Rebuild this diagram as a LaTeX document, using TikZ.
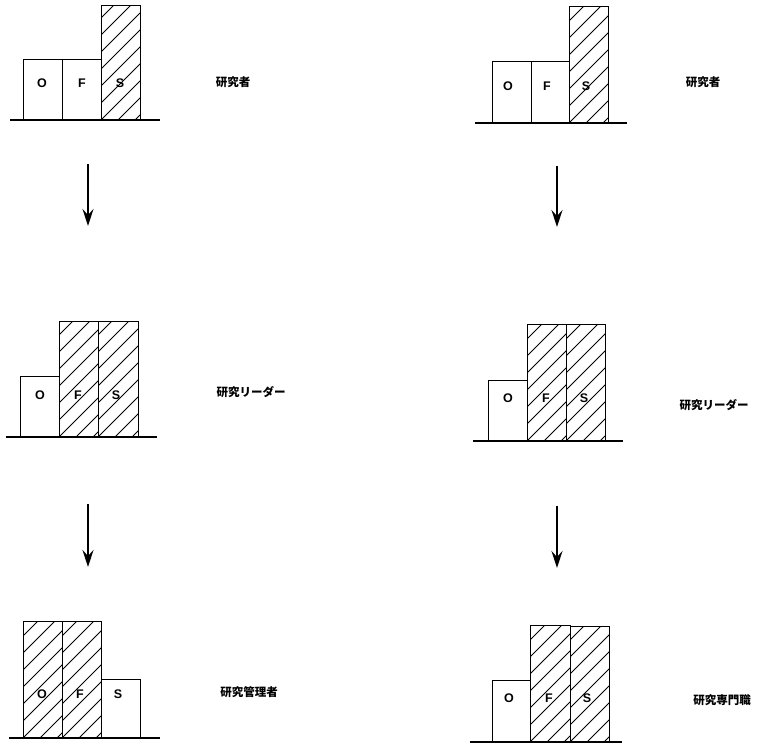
\documentclass[tikz,border=0pt]{standalone}
\usepackage{fontspec}
\setmainfont{Liberation Sans}
\newfontfamily\cjk{Noto Sans CJK JP}
\usetikzlibrary{arrows.meta}
\tikzset{
  box/.style={draw, line width=1.1pt, inner sep=0pt, anchor=south west},
  hatched/.style={path picture={
      \foreach \a in {-153,-136,...,60}
        \draw[line width=1pt] ([xshift=\a pt]path picture bounding box.south west) -- ++(140,-140);}},
  letter/.style={font=\bfseries\fontsize{12.5}{13}\selectfont, inner sep=0pt},
  jlabel/.style={font=\cjk\bfseries\fontsize{11.5}{12}\selectfont, inner sep=0pt},
  ground/.style={line width=1.1pt},
  arr/.style={line width=1.8pt, -{Stealth[length=17pt,width=11pt,inset=6pt]}}
}
\begin{document}
\begin{tikzpicture}[x=1pt,y=-1pt]
\useasboundingbox (0,0) rectangle (764,743);
% ---------- top left: researcher ----------
\node[box, minimum width=39pt, minimum height=60pt] (tlO) at (23,120) {};
\node[box, minimum width=39pt, minimum height=60pt] (tlF) at (62,120) {};
\node[box, hatched, minimum width=39pt, minimum height=114pt] (tlS) at (101,120) {};
\coordinate (tlg1) at (10,120); \coordinate (tlg2) at (160,120);
\draw[ground] (tlg1) -- (tlg2);
\node[letter] (tlOt) at (42,83) {O};
\node[letter] (tlFt) at (82,83) {F};
\node[letter] (tlSt) at (120,83) {S};
\node[jlabel] (tlL) at (233,82) {研究者};
% ---------- middle left: research leader ----------
\node[box, minimum width=39pt, minimum height=60pt] (mlO) at (20,437) {};
\node[box, hatched, minimum width=39pt, minimum height=115pt] (mlF) at (59,437) {};
\node[box, hatched, minimum width=40pt, minimum height=115pt] (mlS) at (98,437) {};
\coordinate (mlg1) at (6,437); \coordinate (mlg2) at (157,437);
\draw[ground] (mlg1) -- (mlg2);
\node[letter] (mlOt) at (40,395) {O};
\node[letter] (mlFt) at (78,395) {F};
\node[letter] (mlSt) at (116,395) {S};
\node[jlabel] (mlL) at (251,392) {研究リーダー};
% ---------- bottom left: research manager ----------
\node[box, hatched, minimum width=39pt, minimum height=116pt] (blO) at (23,738) {};
\node[box, hatched, minimum width=39pt, minimum height=116pt] (blF) at (62,738) {};
\node[box, minimum width=39pt, minimum height=58pt] (blS) at (101,738) {};
\coordinate (blg1) at (9,738); \coordinate (blg2) at (160,738);
\draw[ground] (blg1) -- (blg2);
\node[letter] (blOt) at (42,694) {O};
\node[letter] (blFt) at (80,694) {F};
\node[letter] (blSt) at (118,694) {S};
\node[jlabel] (blL) at (249,692) {研究管理者};
% ---------- top right: researcher ----------
\node[box, minimum width=39pt, minimum height=61pt] (trO) at (492,123) {};
\node[box, minimum width=38pt, minimum height=61pt] (trF) at (531,123) {};
\node[box, hatched, minimum width=39pt, minimum height=116pt] (trS) at (569,123) {};
\coordinate (trg1) at (475,123); \coordinate (trg2) at (627,123);
\draw[ground] (trg1) -- (trg2);
\node[letter] (trOt) at (508,86) {O};
\node[letter] (trFt) at (547,86) {F};
\node[letter] (trSt) at (586,86) {S};
\node[jlabel] (trL) at (703,82) {研究者};
% ---------- middle right: research leader ----------
\node[box, minimum width=39pt, minimum height=60pt] (mrO) at (488,441) {};
\node[box, hatched, minimum width=39pt, minimum height=116pt] (mrF) at (527,441) {};
\node[box, hatched, minimum width=39pt, minimum height=116pt] (mrS) at (566,441) {};
\coordinate (mrg1) at (473,441); \coordinate (mrg2) at (623,441);
\draw[ground] (mrg1) -- (mrg2);
\node[letter] (mrOt) at (508,398) {O};
\node[letter] (mrFt) at (546,398) {F};
\node[letter] (mrSt) at (584,398) {S};
\node[jlabel] (mrL) at (714,405) {研究リーダー};
% ---------- bottom right: research specialist ----------
\node[box, minimum width=38pt, minimum height=61pt] (brO) at (492,742) {};
\node[box, hatched, minimum width=40pt, minimum height=116pt] (brF) at (530,742) {};
\node[box, hatched, minimum width=39pt, minimum height=115pt] (brS) at (570,742) {};
\coordinate (brg1) at (470,742); \coordinate (brg2) at (622,742);
\draw[ground] (brg1) -- (brg2);
\node[letter] (brOt) at (509,698) {O};
\node[letter] (brFt) at (549,698) {F};
\node[letter] (brSt) at (587,698) {S};
\node[jlabel] (brL) at (722,700) {研究専門職};
% ---------- arrows ----------
\coordinate (la1s) at (88,164); \coordinate (la1e) at (88,226);
\coordinate (la2s) at (88,504); \coordinate (la2e) at (88,567);
\coordinate (ra1s) at (557,166); \coordinate (ra1e) at (557,227);
\coordinate (ra2s) at (557,506); \coordinate (ra2e) at (557,568);
\draw[arr] (la1s) -- (la1e);
\draw[arr] (la2s) -- (la2e);
\draw[arr] (ra1s) -- (ra1e);
\draw[arr] (ra2s) -- (ra2e);
\end{tikzpicture}
\end{document}
